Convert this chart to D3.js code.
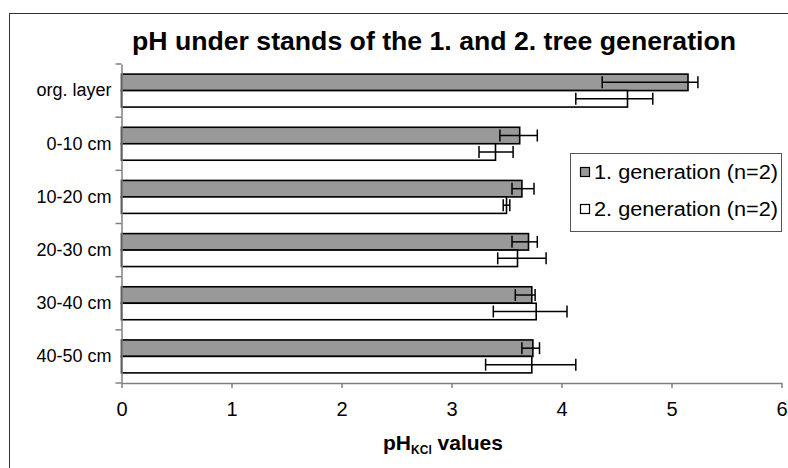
<!DOCTYPE html>
<html>
<head>
<meta charset="utf-8">
<script src="https://cdn.jsdelivr.net/npm/d3@7"></script>
<style>
  html, body { margin: 0; padding: 0; background: #fff; }
  svg { display: block; font-family: "Liberation Sans", Arial, sans-serif; }
</style>
</head>
<body>
<svg id="chart" width="788" height="468"></svg>
<script>
// Soil depth classes (top to bottom)
const categories = ["org. layer", "0-10 cm", "10-20 cm", "20-30 cm", "30-40 cm", "40-50 cm"];

// 1st tree generation: mean pH and error-bar bounds
const gen1 = [5.15, 3.62, 3.64, 3.70, 3.73, 3.74];
const gen1Low = [4.37, 3.44, 3.55, 3.55, 3.58, 3.64];
const gen1High = [5.24, 3.78, 3.75, 3.78, 3.76, 3.80];

// 2nd tree generation: mean pH and error-bar bounds
const gen2 = [4.60, 3.40, 3.50, 3.60, 3.77, 3.73];
const gen2Low = [4.13, 3.25, 3.47, 3.42, 3.38, 3.31];
const gen2High = [4.83, 3.56, 3.53, 3.86, 4.05, 4.13];

const seriesNames = ["1. generation (n=2)", "2. generation (n=2)"];
const xTicks = [0, 1, 2, 3, 4, 5, 6];

const series = [
  { key: "gen1", name: seriesNames[0], values: gen1, low: gen1Low, high: gen1High, fill: "#999999" },
  { key: "gen2", name: seriesNames[1], values: gen2, low: gen2Low, high: gen2High, fill: "#ffffff" }
];

const svg = d3.select("#chart");
const FONT = "Liberation Sans, Arial, sans-serif";
const AXIS_GREY = "#808080";

// Outer chart-area frame (runs past the right and bottom edges)
svg.append("rect")
  .attr("x", 9.5).attr("y", 13.5)
  .attr("width", 820).attr("height", 500)
  .attr("fill", "none").attr("stroke", "#333").attr("stroke-width", 1);

const x = d3.scaleLinear().domain([0, 6]).range([121.5, 781.5]);
const y = d3.scaleBand().domain(categories).range([64, 383])
  .paddingInner(0.38).paddingOuter(0.19);
const ySub = d3.scaleBand().domain(series.map(s => s.key)).range([0, y.bandwidth()]);

// Title
svg.append("text")
  .attr("x", 434).attr("y", 50)
  .attr("text-anchor", "middle")
  .attr("font-family", FONT).attr("font-weight", "bold").attr("font-size", 25)
  .attr("textLength", 604).attr("lengthAdjust", "spacingAndGlyphs")
  .text("pH under stands of the 1. and 2. tree generation");

// Bars
const plot = svg.append("g");
series.forEach(s => {
  plot.selectAll(null)
    .data(categories.map((c, i) => ({ c, v: s.values[i] })))
    .join("rect")
    .attr("x", x(0))
    .attr("y", d => y(d.c) + ySub(s.key))
    .attr("width", d => x(d.v) - x(0))
    .attr("height", ySub.bandwidth())
    .attr("fill", s.fill)
    .attr("stroke", "#000")
    .attr("stroke-width", 1.6);
});

// Error bars
const capHalf = 6;
series.forEach(s => {
  const g = plot.append("g").attr("stroke", "#000").attr("stroke-width", 1.5);
  categories.forEach((c, i) => {
    const cy = y(c) + ySub(s.key) + ySub.bandwidth() / 2;
    g.append("line").attr("x1", x(s.low[i])).attr("x2", x(s.high[i])).attr("y1", cy).attr("y2", cy);
    [s.low[i], s.high[i]].forEach(v => {
      g.append("line").attr("x1", x(v)).attr("x2", x(v)).attr("y1", cy - capHalf).attr("y2", cy + capHalf);
    });
  });
});

// X axis
const xAxis = svg.append("g")
  .attr("transform", `translate(0,${383})`)
  .call(d3.axisBottom(x).tickValues(xTicks).tickFormat(d3.format("d")).tickSize(5).tickSizeOuter(0).tickPadding(14));
xAxis.select(".domain").attr("stroke", AXIS_GREY).attr("stroke-width", 1.5);
xAxis.selectAll(".tick line").attr("stroke", AXIS_GREY).attr("stroke-width", 1.5);
xAxis.selectAll(".tick text").attr("font-family", FONT).attr("font-size", 20).attr("fill", "#000");

// Y axis: labels centred on each depth class, ticks on class boundaries
const yAxis = svg.append("g")
  .attr("transform", `translate(${x(0)},0)`)
  .call(d3.axisLeft(y).tickSize(0).tickPadding(10));
yAxis.select(".domain").attr("stroke", AXIS_GREY).attr("stroke-width", 1.5);
yAxis.selectAll(".tick text").attr("font-family", FONT).attr("font-size", 18).attr("fill", "#000");

const half = y.step() * y.paddingInner() / 2;
const boundaries = categories.map(c => y(c) - half).concat([y(categories[categories.length - 1]) + y.bandwidth() + half]);
svg.append("g").selectAll("line").data(boundaries).join("line")
  .attr("x1", x(0) - 6).attr("x2", x(0))
  .attr("y1", d => d).attr("y2", d => d)
  .attr("stroke", AXIS_GREY).attr("stroke-width", 1.5);

// X axis title with subscript
const xt = svg.append("text")
  .attr("x", 443).attr("y", 450)
  .attr("text-anchor", "middle")
  .attr("font-family", FONT).attr("font-weight", "bold").attr("font-size", 21);
xt.append("tspan").text("pH");
xt.append("tspan").attr("font-size", 12).attr("dy", 4).text("KCl");
xt.append("tspan").attr("dy", -4).text(" values");

// Legend
const legend = svg.append("g");
legend.append("rect")
  .attr("x", 570.5).attr("y", 153.5).attr("width", 211).attr("height", 78)
  .attr("fill", "#fff").attr("stroke", "#555").attr("stroke-width", 1);
series.forEach((s, i) => {
  const cy = 172 + i * 37;
  legend.append("rect")
    .attr("x", 580.5).attr("y", cy - 4.5).attr("width", 9).attr("height", 9)
    .attr("fill", s.fill).attr("stroke", "#000").attr("stroke-width", 1.2);
  legend.append("text")
    .attr("x", 594).attr("y", cy + 7)
    .attr("font-family", FONT).attr("font-size", 20)
    .attr("textLength", 184).attr("lengthAdjust", "spacingAndGlyphs")
    .text(s.name);
});
</script>
</body>
</html>
